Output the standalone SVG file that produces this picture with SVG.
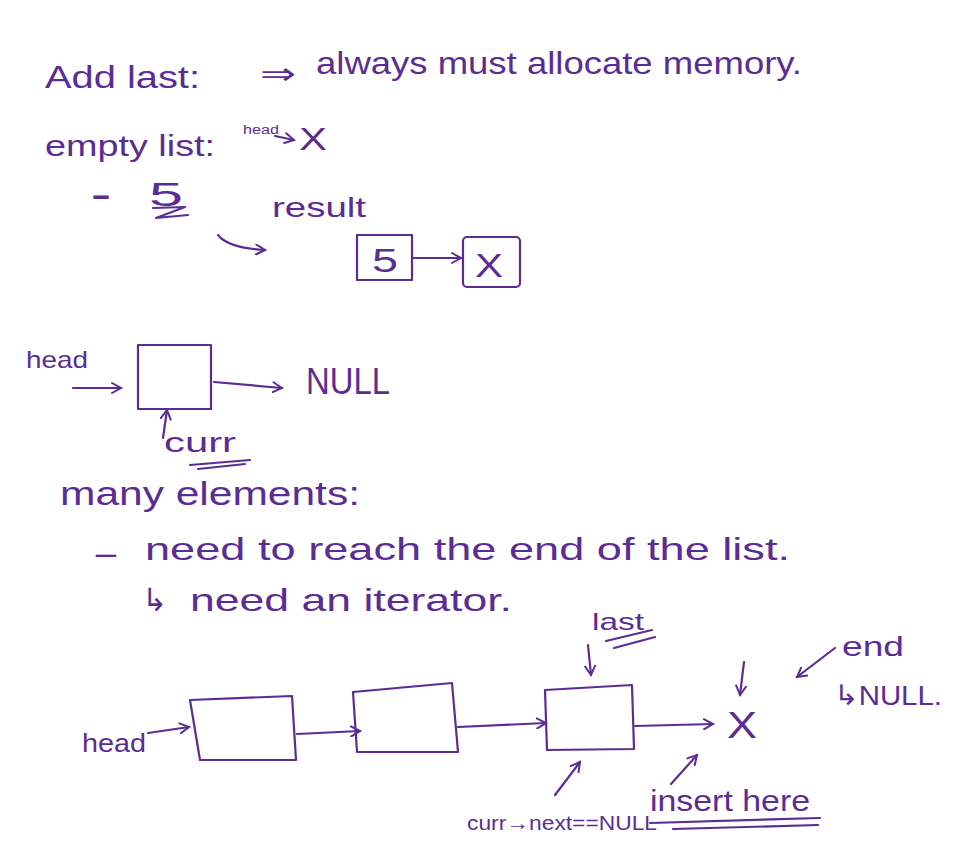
<svg xmlns="http://www.w3.org/2000/svg" width="954" height="850" viewBox="0 0 954 850">
<defs>
<style>
.t{font-family:"Liberation Sans","DejaVu Sans",sans-serif;fill:#5b2d94;}
.s{fill:none;stroke:#5b2d94;stroke-width:2.2;stroke-linecap:round;stroke-linejoin:round;}
</style>
<marker id="ah" viewBox="0 0 12 12" refX="10" refY="6" markerWidth="12" markerHeight="12" markerUnits="userSpaceOnUse" orient="auto">
<path d="M1,1 L10,6 L1,11" fill="none" stroke="#5b2d94" stroke-width="2" stroke-linecap="round"/>
</marker>
</defs>
<rect width="954" height="850" fill="#ffffff"/>

<g id="heading">
<text class="t" x="45" y="88" font-size="32" textLength="155" lengthAdjust="spacingAndGlyphs">Add last:</text>
<text class="t" x="260" y="84" font-size="30" textLength="36" lengthAdjust="spacingAndGlyphs">⇒</text>
<text class="t" x="316" y="74" font-size="32" textLength="486" lengthAdjust="spacingAndGlyphs">always must allocate memory.</text>
</g>

<g id="empty-list">
<text class="t" x="45" y="156" font-size="30" textLength="170" lengthAdjust="spacingAndGlyphs">empty list:</text>
<text class="t" x="243" y="134" font-size="12" textLength="36" lengthAdjust="spacingAndGlyphs">head</text>
<text class="t" x="299" y="150" font-size="32" textLength="28" lengthAdjust="spacingAndGlyphs">X</text>
<text class="t" x="91" y="205" font-size="30" font-weight="bold" textLength="20" lengthAdjust="spacingAndGlyphs">-</text>
<text class="t" x="149" y="206" font-size="34" textLength="34" lengthAdjust="spacingAndGlyphs">5</text>
<text class="t" x="272" y="217" font-size="28" textLength="94" lengthAdjust="spacingAndGlyphs">result</text>
</g>

<g id="node-5">
<rect class="s" x="357" y="235" width="55" height="45"/>
<text class="t" x="372" y="272" font-size="34" textLength="26" lengthAdjust="spacingAndGlyphs">5</text>
</g>
<g id="node-x">
<rect class="s" x="463" y="237" width="57" height="50" rx="4"/>
<text class="t" x="475" y="277" font-size="34" textLength="28" lengthAdjust="spacingAndGlyphs">X</text>
</g>

<g id="single-node">
<text class="t" x="26" y="368" font-size="24" textLength="62" lengthAdjust="spacingAndGlyphs">head</text>
<rect class="s" x="138" y="345" width="73" height="64"/>
<text class="t" x="306" y="394" font-size="36" textLength="84" lengthAdjust="spacingAndGlyphs">NULL</text>
<text class="t" x="164" y="452" font-size="28" textLength="72" lengthAdjust="spacingAndGlyphs">curr</text>
</g>

<g id="many-elements">
<text class="t" x="60" y="505" font-size="34" textLength="300" lengthAdjust="spacingAndGlyphs">many elements:</text>
<text class="t" x="92" y="564" font-size="30" textLength="28" lengthAdjust="spacingAndGlyphs">-</text>
<text class="t" x="145" y="560" font-size="32" textLength="645" lengthAdjust="spacingAndGlyphs">need to reach the end of the list.</text>
<text class="t" x="142" y="611" font-size="32" textLength="25" lengthAdjust="spacingAndGlyphs">↳</text>
<text class="t" x="190" y="611" font-size="32" textLength="322" lengthAdjust="spacingAndGlyphs">need an iterator.</text>
</g>

<g id="list-head">
<text class="t" x="82" y="752" font-size="26" textLength="64" lengthAdjust="spacingAndGlyphs">head</text>
</g>
<g id="node-1"><path class="s" d="M190,700 L292,696 L296,760 L200,760 Z"/></g>
<g id="node-2"><path class="s" d="M353,692 L452,683 L458,752 L357,752 Z"/></g>
<g id="node-3"><path class="s" d="M545,690 L632,685 L634,749 L547,750 Z"/></g>
<g id="end-x"><text class="t" x="727" y="738" font-size="36" textLength="30" lengthAdjust="spacingAndGlyphs">X</text></g>

<g id="labels">
<text class="t" x="592" y="630" font-size="24" textLength="52" lengthAdjust="spacingAndGlyphs">last</text>
<text class="t" x="842" y="656" font-size="28" textLength="62" lengthAdjust="spacingAndGlyphs">end</text>
<text class="t" x="834" y="705" font-size="28" textLength="108" lengthAdjust="spacingAndGlyphs">↳NULL.</text>
<text class="t" x="650" y="811" font-size="30" textLength="160" lengthAdjust="spacingAndGlyphs">insert here</text>
<text class="t" x="467" y="830" font-size="20" textLength="190" lengthAdjust="spacingAndGlyphs">curr→next==NULL</text>
</g>

<g id="connectors">
<path class="s" d="M275,136 L294,140" marker-end="url(#ah)"/>
<path class="s" d="M153,208 L185,207 L156,218 L188,215"/>
<path class="s" d="M218,235 Q228,248 265,250" marker-end="url(#ah)"/>
<path class="s" d="M413,258 L461,258" marker-end="url(#ah)"/>
<path class="s" d="M73,388 L121,388" marker-end="url(#ah)"/>
<path class="s" d="M214,382 L282,388" marker-end="url(#ah)"/>
<path class="s" d="M163,438 L167,410" marker-end="url(#ah)"/>
<path class="s" d="M190,465 L250,460 M198,469 L245,464"/>
<path class="s" d="M606,641 L652,630 M614,648 L655,637"/>
<path class="s" d="M588,645 L591,675" marker-end="url(#ah)"/>
<path class="s" d="M835,648 L797,677" marker-end="url(#ah)"/>
<path class="s" d="M744,662 L740,695" marker-end="url(#ah)"/>
<path class="s" d="M148,733 L189,727" marker-end="url(#ah)"/>
<path class="s" d="M297,734 L360,731" marker-end="url(#ah)"/>
<path class="s" d="M458,727 L546,723" marker-end="url(#ah)"/>
<path class="s" d="M635,726 L713,724" marker-end="url(#ah)"/>
<path class="s" d="M555,795 L580,762" marker-end="url(#ah)"/>
<path class="s" d="M671,784 L697,755" marker-end="url(#ah)"/>
<path class="s" d="M650,823 L820,818 M673,829 L818,825"/>
</g>
</svg>
